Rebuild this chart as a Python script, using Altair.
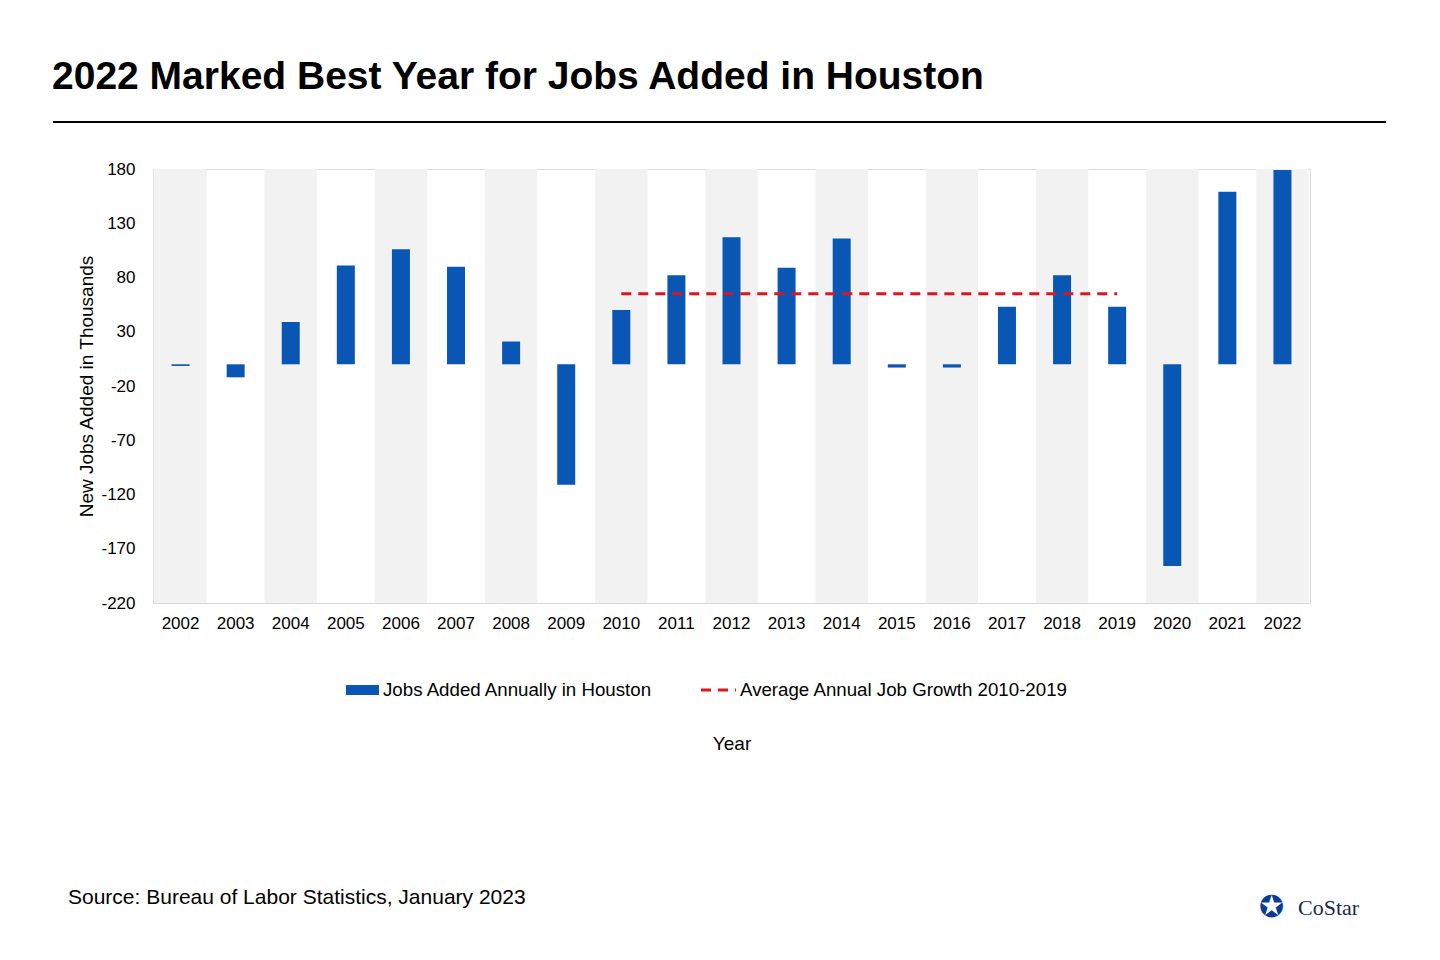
import pandas as pd
import altair as alt

years = [str(y) for y in range(2002, 2023)]
jobs = [-1.5, -12, 39, 91, 106, 90, 21, -111, 50, 82, 117, 89, 116, -3, -3, 53, 82, 53, -186, 159, 179]
avg_growth = 65
avg_span = ["2010", "2019"]
y_ticks = [-220, -170, -120, -70, -20, 30, 80, 130, 180]

df = pd.DataFrame({"year": years, "jobs": jobs})
bands = df[df["year"].astype(int) % 2 == 0]
avg_df = pd.DataFrame({"start": [avg_span[0]], "end": [avg_span[1]], "avg": [avg_growth]})

FONT = "Liberation Sans"
BLUE = "#0a56b5"
RED = "#e0141e"

x = alt.X("year:N", title="Year", scale=alt.Scale(domain=years, paddingInner=0, paddingOuter=0),
          axis=alt.Axis(labelAngle=0, labelFontSize=17, labelColor="#000", labelPadding=12, ticks=False,
                        domainColor="#d9d9d9", titleFontSize=19, titleFontWeight="normal",
                        titleColor="#000", titlePadding=103))
yscale = alt.Scale(domain=[-220, 180], nice=False)

band_layer = alt.Chart(bands).mark_bar(color="#f2f2f2", width=alt.RelativeBandSize(0.95)).encode(
    x=x, y=alt.datum(180, scale=yscale), y2=alt.datum(-220))

bars = alt.Chart(df).mark_bar(color=BLUE, width=18).encode(
    x=x,
    y=alt.Y("jobs:Q", scale=yscale, title="New Jobs Added in Thousands",
            axis=alt.Axis(values=y_ticks, labelFontSize=17, labelColor="#000", labelPadding=18, ticks=False,
                          labelExpr="replace(datum.label, '\u2212', '-')",
                          domain=False, gridColor="#d9d9d9", titleFontSize=19, titleFontWeight="normal",
                          titleColor="#000", titlePadding=4)),
    y2=alt.datum(0))

avg_line = alt.Chart(avg_df).mark_rule(color=RED, strokeWidth=3, strokeDash=[10, 7]).encode(
    x=alt.X("start:N", scale=alt.Scale(domain=years)), x2="end:N", y=alt.Y("avg:Q", scale=yscale))

def text(t, px, py, size=17, weight="normal", font=FONT, align="left", color="#000"):
    return alt.Chart(pd.DataFrame({"t": [t]})).mark_text(
        font=font, fontSize=size, fontWeight=weight, align=align, baseline="middle", color=color
    ).encode(text="t:N", x=alt.value(px), y=alt.value(py))

title = text("2022 Marked Best Year for Jobs Added in Houston", -101, -92, size=39, weight="bold")
hline = alt.Chart(pd.DataFrame({"a": [0]})).mark_rule(color="#000", strokeWidth=2).encode(
    x=alt.value(-100), x2=alt.value(1233), y=alt.value(-47))
leg_bar = alt.Chart(pd.DataFrame({"a": [0]})).mark_rule(color=BLUE, strokeWidth=10).encode(
    x=alt.value(193), x2=alt.value(226), y=alt.value(521))
leg_line = alt.Chart(pd.DataFrame({"a": [0]})).mark_rule(color=RED, strokeWidth=3, strokeDash=[10, 7]).encode(
    x=alt.value(548), x2=alt.value(583), y=alt.value(521))
leg_t1 = text("Jobs Added Annually in Houston", 230, 521, size=18.7)
leg_t2 = text("Average Annual Job Growth 2010-2019", 587, 521, size=18.7)
source = text("Source: Bureau of Labor Statistics, January 2023", -85, 729, size=21)
logo = text("CoStar", 1145, 739, size=22, font="Liberation Serif", color="#1a2a4a")
logo_mark = text("✪", 1106, 739, size=30, color="#0a3d8f")

chart = alt.layer(band_layer, bars, avg_line, title, hline, leg_bar, leg_line, leg_t1, leg_t2,
                  source, logo, logo_mark).properties(
    width=1157, height=434, autosize=alt.AutoSizeParams(type="none"),
    padding={"left": 145, "top": 161, "right": 122, "bottom": 345}
).configure_view(stroke=None).configure(font=FONT, background="white")

chart.save("out.html", embed_options={"renderer": "svg", "actions": False})
